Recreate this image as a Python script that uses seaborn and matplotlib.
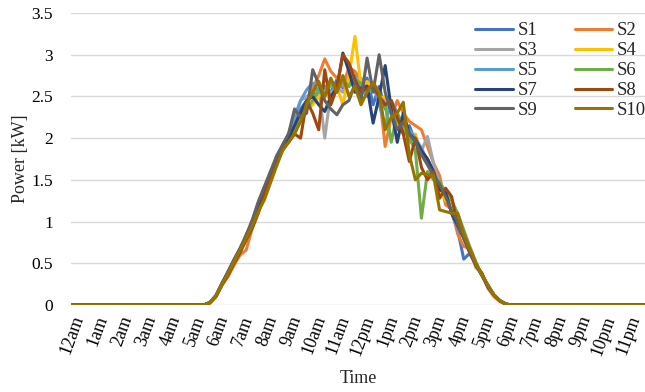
import matplotlib
matplotlib.use("Agg")
import matplotlib.pyplot as plt
import seaborn as sns
import pandas as pd

# ---- data (15-minute samples, 96 per day) ----
series_names = ["S1", "S2", "S3", "S4", "S5", "S6", "S7", "S8", "S9", "S10"]
colors = ["#4472C4", "#ED7D31", "#A5A5A5", "#FFC000", "#5B9BD5",
          "#70AD47", "#264478", "#9E480E", "#636363", "#997300"]
hour_labels = ["12am", "1am", "2am", "3am", "4am", "5am", "6am", "7am", "8am",
               "9am", "10am", "11am", "12pm", "1pm", "2pm", "3pm", "4pm",
               "5pm", "6pm", "7pm", "8pm", "9pm", "10pm", "11pm"]
y_ticks = [0, 0.5, 1, 1.5, 2, 2.5, 3, 3.5]
y_tick_labels = ["0", "0.5", "1", "1.5", "2", "2.5", "3", "3.5"]

night_am = [0.0] * 22   # 00:00 .. 05:15
night_pm = [0.0] * 23   # 18:15 .. 23:45

# daytime values 05:30 .. 18:00 (51 samples)
s1_day = [0.00, 0.03,
          0.12, 0.26, 0.38, 0.52,
          0.66, 0.82, 1.00, 1.22,
          1.35, 1.52, 1.72, 1.90,
          2.05, 2.20, 2.35, 2.45,
          2.55, 2.50, 2.62, 2.55,
          2.70, 2.60, 2.78, 2.65,
          2.55, 2.72, 2.40, 2.62,
          2.35, 2.45, 2.20, 2.05,
          2.15, 1.95, 1.85, 1.75,
          1.60, 1.40, 1.35, 1.10,
          0.90, 0.55, 0.62, 0.48,
          0.38, 0.22, 0.12, 0.05,
          0.01]
s2_day = [0.00, 0.02,
          0.10, 0.24, 0.34, 0.48,
          0.60, 0.66, 0.92, 1.15,
          1.32, 1.52, 1.68, 1.85,
          1.95, 2.10, 2.30, 2.40,
          2.60, 2.75, 2.95, 2.80,
          2.72, 2.62, 2.85, 2.80,
          2.70, 2.65, 2.60, 2.55,
          1.90, 2.25, 2.45, 2.30,
          2.20, 2.15, 2.10, 1.90,
          1.70, 1.55, 1.20, 1.15,
          0.85, 0.70, 0.68, 0.45,
          0.38, 0.20, 0.10, 0.04,
          0.01]
s3_day = [0.00, 0.03,
          0.11, 0.25, 0.40, 0.52,
          0.66, 0.82, 0.98, 1.18,
          1.32, 1.58, 1.75, 1.90,
          2.05, 2.25, 2.45, 2.50,
          2.55, 2.60, 2.00, 2.55,
          2.60, 2.55, 2.68, 2.62,
          2.72, 2.55, 2.58, 2.50,
          2.45, 2.30, 2.25, 2.10,
          2.05, 1.95, 1.85, 2.02,
          1.70, 1.45, 1.30, 1.15,
          1.00, 0.80, 0.65, 0.50,
          0.35, 0.22, 0.12, 0.05,
          0.01]
s4_day = [0.00, 0.03,
          0.11, 0.26, 0.38, 0.52,
          0.68, 0.84, 0.98, 1.20,
          1.36, 1.60, 1.72, 1.88,
          1.95, 2.15, 2.25, 2.35,
          2.40, 2.50, 2.55, 2.45,
          2.62, 2.40, 2.75, 3.22,
          2.62, 2.68, 2.60, 2.48,
          2.50, 2.35, 2.15, 2.25,
          1.95, 2.05, 1.80, 1.70,
          1.55, 1.40, 1.25, 1.20,
          1.00, 0.88, 0.66, 0.50,
          0.35, 0.24, 0.12, 0.05,
          0.01]
s5_day = [0.00, 0.03,
          0.11, 0.25, 0.38, 0.53,
          0.66, 0.82, 1.00, 1.18,
          1.32, 1.52, 1.70, 1.90,
          2.05, 2.25, 2.45, 2.58,
          2.66, 2.55, 2.60, 2.65,
          2.55, 2.70, 2.62, 2.75,
          2.60, 2.50, 2.65, 2.40,
          2.15, 2.45, 2.30, 2.15,
          2.10, 2.00, 1.88, 1.72,
          1.58, 1.45, 1.32, 1.12,
          0.90, 0.82, 0.66, 0.50,
          0.36, 0.24, 0.12, 0.05,
          0.01]
s6_day = [0.00, 0.03,
          0.11, 0.25, 0.38, 0.52,
          0.66, 0.84, 0.98, 1.16,
          1.34, 1.56, 1.72, 1.85,
          2.00, 2.10, 2.20, 2.35,
          2.45, 2.58, 2.50, 2.65,
          2.60, 2.68, 2.62, 2.70,
          2.66, 2.58, 2.65, 2.50,
          2.40, 1.95, 2.30, 2.10,
          2.00, 1.85, 1.04, 1.60,
          1.50, 1.48, 1.35, 1.25,
          1.10, 0.90, 0.70, 0.52,
          0.36, 0.24, 0.12, 0.05,
          0.01]
s7_day = [0.00, 0.03,
          0.11, 0.26, 0.40, 0.54,
          0.68, 0.82, 1.00, 1.18,
          1.40, 1.52, 1.75, 1.90,
          2.00, 2.15, 2.30, 2.45,
          2.50, 2.40, 2.32, 2.50,
          2.60, 3.02, 2.80, 2.55,
          2.60, 2.62, 2.18, 2.50,
          2.87, 2.35, 1.95, 2.30,
          2.05, 1.98, 1.85, 1.75,
          1.60, 1.38, 1.35, 1.10,
          0.95, 0.82, 0.65, 0.48,
          0.36, 0.22, 0.12, 0.05,
          0.01]
s8_day = [0.00, 0.03,
          0.10, 0.24, 0.36, 0.50,
          0.63, 0.78, 0.92, 1.10,
          1.32, 1.52, 1.78, 1.90,
          1.95, 2.05, 2.00, 2.45,
          2.30, 2.10, 2.82, 2.40,
          2.60, 3.00, 2.90, 2.70,
          2.55, 2.60, 2.62, 2.50,
          2.40, 2.45, 2.25, 2.05,
          1.72, 2.00, 1.65, 1.50,
          1.60, 1.28, 1.40, 1.30,
          0.95, 0.80, 0.62, 0.48,
          0.38, 0.22, 0.12, 0.05,
          0.01]
s9_day = [0.00, 0.03,
          0.11, 0.26, 0.40, 0.55,
          0.68, 0.84, 1.02, 1.24,
          1.42, 1.60, 1.78, 1.92,
          2.05, 2.35, 2.25, 2.30,
          2.82, 2.65, 2.45, 2.35,
          2.28, 2.40, 2.45, 2.65,
          2.45, 2.96, 2.55, 3.00,
          2.55, 2.30, 2.10, 2.20,
          2.05, 1.95, 1.80, 1.68,
          1.55, 1.45, 1.30, 1.12,
          1.00, 0.80, 0.64, 0.48,
          0.36, 0.22, 0.12, 0.05,
          0.01]
s10_day = [0.00, 0.03,
           0.11, 0.25, 0.38, 0.52,
           0.66, 0.80, 0.95, 1.12,
           1.26, 1.46, 1.66, 1.85,
           1.95, 2.05, 2.20, 2.40,
           2.55, 2.68, 2.50, 2.72,
           2.55, 2.75, 2.50, 2.62,
           2.40, 2.55, 2.67, 2.55,
           2.10, 2.25, 2.30, 2.43,
           1.80, 1.50, 1.58, 1.56,
           1.55, 1.14, 1.12, 1.10,
           1.10, 0.85, 0.68, 0.50,
           0.36, 0.24, 0.12, 0.05,
           0.01]

day_values = [s1_day, s2_day, s3_day, s4_day, s5_day,
              s6_day, s7_day, s8_day, s9_day, s10_day]

# ---- build long table ----
rows = []
for name, day in zip(series_names, day_values):
    vals = night_am + day + night_pm
    for i, v in enumerate(vals):
        rows.append({"idx": i, "power": v, "series": name})
df = pd.DataFrame(rows)

sns.set_style("white")
plt.rcParams["font.family"] = ["Liberation Serif", "DejaVu Serif"]

fig = plt.figure(figsize=(6.45, 3.92), dpi=100)
ax = fig.add_axes([71 / 645, (392 - 305) / 392, 1 - 71 / 645, (305 - 13) / 392])

sns.lineplot(data=df, x="idx", y="power", hue="series", hue_order=series_names,
             palette=colors, linewidth=2.2, ax=ax, legend=True)

ax.set_xlim(0, 95)
ax.set_ylim(0, 3.5)
ax.set_yticks(y_ticks)
ax.set_yticklabels(y_tick_labels, fontsize=12.5)
ax.set_xticks(list(range(0, 96, 4)))
ax.set_xticklabels(hour_labels, fontsize=13, rotation=70, ha="right",
                   va="top", rotation_mode="anchor")
ax.tick_params(axis="both", length=0, colors="black")
ax.tick_params(axis="x", pad=6)
ax.tick_params(axis="y", pad=13)
ax.yaxis.grid(True, color="#D9D9D9", linewidth=1.0)
ax.set_axisbelow(True)
for side in ["top", "right", "left", "bottom"]:
    ax.spines[side].set_visible(False)

ax.set_xlabel("Time", fontsize=13, labelpad=9)
ax.set_ylabel("Power [kW]", fontsize=13, labelpad=2)

# legend filled row-wise: S1 S2 / S3 S4 / ...
handles, labels = ax.get_legend_handles_labels()
hmap = dict(zip(labels, handles))
order = series_names[0::2] + series_names[1::2]
ax.legend([hmap[n] for n in order], order, ncol=2, frameon=False, fontsize=13.5,
          loc="upper left", bbox_to_anchor=(462 / 645, 1 - 9 / 392),
          bbox_transform=fig.transFigure, handlelength=2.0,
          handletextpad=0.25, columnspacing=2.0, labelspacing=0.15,
          borderpad=0.2)

fig.savefig("out.png", dpi=100)
